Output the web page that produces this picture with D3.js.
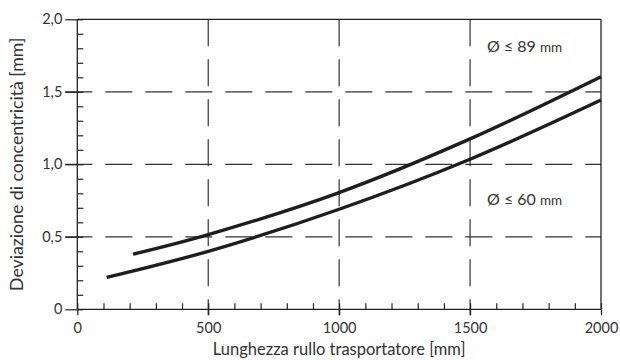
<!DOCTYPE html>
<html lang="it">
<head>
    <meta charset="UTF-8">
    <title>Deviazione di concentricità</title>
    <script src="https://cdn.jsdelivr.net/npm/d3@7"></script>
    <style>
        body{margin:0;background:#fff}
        text{font-family:Lato,"Open Sans",sans-serif;fill:#333}
    </style>
</head>
<body>
<div class="chart"></div>
<script>
    //data
    let lengths89=[213,500,1000,1500,2000]
    let dev89=[0.38,0.515,0.805,1.175,1.604]
    let lengths60=[112,500,1000,1500,2000]
    let dev60=[0.22,0.40,0.69,1.035,1.443]
    let xTicks=[0,500,1000,1500,2000]
    let yTicks=[0,0.5,1,1.5,2]
    let xGrid=[500,1000,1500]
    let yGrid=[0.5,1,1.5]

    //init
    let W=620,H=360
    let mLeft=77.3,mRight=601,mTop=19.3,mBottom=309.3
    let xScale=d3.scaleLinear().domain([0,2000]).range([mLeft,mRight])
    let yScale=d3.scaleLinear().domain([0,2]).range([mBottom,mTop])
    let svg=d3.select('.chart').append('svg').attr('width',W).attr('height',H)

    //grid
    svg.append('g').selectAll('line').data(yGrid).join('line')
        .attr('x1',mLeft-12).attr('x2',mRight)
        .attr('y1',d=>yScale(d)).attr('y2',d=>yScale(d))
        .attr('stroke','#333').attr('stroke-width',1.2).attr('stroke-dasharray','27,13')
    svg.append('g').selectAll('line').data(xGrid).join('line')
        .attr('x1',d=>xScale(d)).attr('x2',d=>xScale(d))
        .attr('y1',mTop).attr('y2',mBottom+6)
        .attr('stroke','#333').attr('stroke-width',1.2).attr('stroke-dasharray','27,13')

    //frame
    svg.append('line').attr('x1',mLeft).attr('x2',mRight).attr('y1',mTop).attr('y2',mTop)
        .attr('stroke','#222').attr('stroke-width',1.3)
    svg.append('line').attr('x1',mRight).attr('x2',mRight).attr('y1',mTop).attr('y2',mBottom)
        .attr('stroke','#222').attr('stroke-width',1.3)

    //axis
    let fmt=d=>d===0?'0':d3.format('.1f')(d).replace('.',',')
    let yMinor=d3.axisRight(yScale).ticks(20).tickSize(6).tickFormat('')
    let yMajor=d3.axisLeft(yScale).tickValues(yTicks).tickSize(12).tickPadding(3).tickFormat(fmt)
    let xMinor=d3.axisTop(xScale).ticks(20).tickSize(6).tickFormat('')
    let xMajor=d3.axisBottom(xScale).tickValues(xTicks).tickSize(6).tickPadding(7).tickFormat(d=>d)
    let gy1=svg.append('g').attr('transform','translate('+mLeft+',0)').call(yMinor)
    let gy2=svg.append('g').attr('transform','translate('+mLeft+',0)').call(yMajor)
    let gx1=svg.append('g').attr('transform','translate(0,'+mBottom+')').call(xMinor)
    let gx2=svg.append('g').attr('transform','translate(0,'+mBottom+')').call(xMajor)
    ;[gy1,gy2,gx1,gx2].forEach(g=>{
        g.select('.domain').attr('stroke','#222').attr('stroke-width',1.3)
        g.selectAll('.tick line').attr('stroke','#222').attr('stroke-width',1.2)
        g.selectAll('text').style('font-size','14.5px').attr('fill','#333')
    })
    gy1.select('.domain').remove()
    gx1.select('.domain').remove()
    gy2.selectAll('.domain').attr('d','M0,'+mTop+'V'+mBottom)
    gx2.selectAll('.domain').attr('d','M'+mLeft+',0H'+mRight)

    //curves
    let line=d3.line().x(d=>xScale(d[0])).y(d=>yScale(d[1])).curve(d3.curveCatmullRom)
    svg.append('path').datum(d3.zip(lengths89,dev89)).attr('d',line)
        .attr('fill','none').attr('stroke','#1e1e1e').attr('stroke-width',3.4)
    svg.append('path').datum(d3.zip(lengths60,dev60)).attr('d',line)
        .attr('fill','none').attr('stroke','#1e1e1e').attr('stroke-width',3.4)

    //labels
    let lab1=svg.append('text').attr('x',487).attr('y',52).style('font-size','16px')
    lab1.append('tspan').text('Ø ≤ 89 ')
    lab1.append('tspan').style('font-size','13.5px').text('mm')
    let lab2=svg.append('text').attr('x',487).attr('y',205).style('font-size','16px')
    lab2.append('tspan').text('Ø ≤ 60 ')
    lab2.append('tspan').style('font-size','13.5px').text('mm')

    svg.append('text').attr('x',(mLeft+mRight)/2).attr('y',355).attr('text-anchor','middle')
        .style('font-size','16.5px').text('Lunghezza rullo trasportatore [mm]')
    svg.append('text').attr('transform','translate(23,'+(mTop+mBottom)/2+') rotate(-90)')
        .attr('text-anchor','middle').style('font-size','17.7px')
        .text('Deviazione di concentricità [mm]')
</script>
</body>
</html>
